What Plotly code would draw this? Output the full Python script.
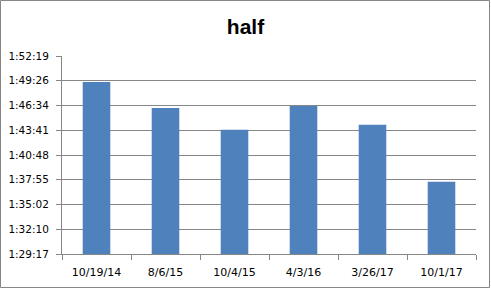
import plotly.graph_objects as go

categories = ["10/19/14", "8/6/15", "10/4/15", "4/3/16", "3/26/17", "10/1/17"]
# finish times in seconds
times_sec = [6558, 6377, 6224, 6390, 6259, 5861]
tick_days = [0.062, 0.064, 0.066, 0.068, 0.070, 0.072, 0.074, 0.076, 0.078]
tick_labels = ["1:29:17", "1:32:10", "1:35:02", "1:37:55", "1:40:48",
               "1:43:41", "1:46:34", "1:49:26", "1:52:19"]

tick_vals = [d * 86400 for d in tick_days]

W, H = 491, 289
L, R, T, B = 62, 15, 56, 35
pw, ph = W - L - R, H - T - B

fig = go.Figure(go.Bar(x=categories, y=times_sec,
                       marker=dict(color="#4F81BD", line=dict(width=0))))

fig.update_layout(
    width=W, height=H,
    margin=dict(l=L, r=R, t=T, b=B, autoexpand=False),
    paper_bgcolor="white", plot_bgcolor="white",
    bargap=0.6,
    showlegend=False,
    title=dict(text="<b>half</b>", x=0.5, xanchor="center", y=1 - 27 / H, yanchor="middle",
               font=dict(family="Liberation Sans, Arial", size=21, color="black")),
    font=dict(family="DejaVu Sans", size=11, color="black"),
)
fig.update_xaxes(
    automargin=False,
    showline=True, linecolor="#868686", linewidth=1,
    ticks="outside", tickson="boundaries", ticklen=5, tickcolor="#868686",
    ticklabelstandoff=8, showgrid=False,
)
fig.update_yaxes(
    automargin=False,
    range=[tick_vals[0], tick_vals[-1]],
    tickvals=tick_vals, ticktext=tick_labels,
    tickfont=dict(size=10.5),
    showline=True, linecolor="#868686", linewidth=1,
    ticks="outside", ticklen=5, tickcolor="#868686",
    showgrid=True, gridcolor="#868686", gridwidth=1,
    ticklabelstandoff=5, zeroline=False,
)
# chart border
fig.add_shape(type="rect", xref="paper", yref="paper",
              x0=(0.5 - L) / pw, x1=(W - 1.5 - L) / pw,
              y0=-(287.5 - (T + ph)) / ph,
              y1=(T + ph - 0.5) / ph,
              line=dict(color="#868686", width=1), layer="below")

fig.write_html("out.html")
